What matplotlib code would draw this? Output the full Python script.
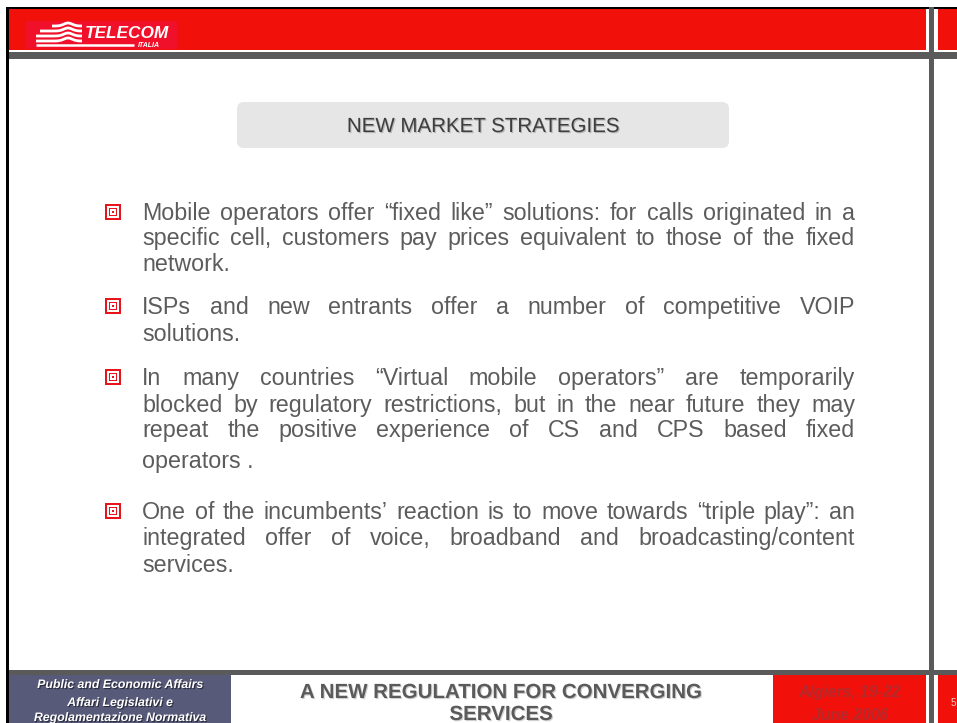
import matplotlib
matplotlib.use("Agg")
import matplotlib.pyplot as plt
import matplotlib.patheffects as pe
from matplotlib import font_manager
from matplotlib.patches import Rectangle, FancyBboxPatch
import numpy as np

W, H = 957, 723
PT = 0.72  # points per pixel at dpi 100

SLIDE_TITLE = "NEW MARKET STRATEGIES"
BULLETS = [
    ["Mobile operators offer \u201cfixed like\u201d solutions: for calls originated in a",
     "specific cell, customers pay prices equivalent to those of the fixed",
     "network."],
    ["ISPs and new entrants offer a number of competitive VOIP",
     "solutions."],
    ["In many countries \u201cVirtual mobile operators\u201d are temporarily",
     "blocked by regulatory restrictions, but in the near future they may",
     "repeat the positive experience of CS and CPS based fixed",
     "operators ."],
    ["One of the incumbents\u2019 reaction is to move towards \u201ctriple play\u201d: an",
     "integrated offer of voice, broadband and broadcasting/content",
     "services."],
]
FOOTER_LEFT = ["Public and Economic Affairs", "Affari Legislativi e", "Regolamentazione Normativa"]
FOOTER_TITLE = ["A NEW REGULATION FOR CONVERGING", "SERVICES"]
FOOTER_DATE = ["Algiers, 19-22", "June 2006"]
PAGE_NUMBER = "5"
LOGO_TEXT = "TELECOM"
LOGO_SUB = "ITALIA"

# layout (pixels from the top)
LINE_BASELINES = [[220, 245, 271], [314, 341], [385, 412, 437, 468], [519, 545, 572]]
TEXT_LEFT, TEXT_RIGHT = 142, 855

RED = "#f2110a"
GREY = "#5a5a5a"
TEXT_COLOR = "#5c5c5c"
FONT = "Liberation Sans"

installed = {f.name for f in font_manager.fontManager.ttflist}
NARROW = "Liberation Sans Narrow" if "Liberation Sans Narrow" in installed else None


def rect(ax, x0, y0, x1, y1, color, z=1):
    ax.add_patch(Rectangle((x0, y0), x1 - x0, y1 - y0, facecolor=color,
                           edgecolor="none", zorder=z))


def draw_frame(ax):
    rect(ax, 6, 7, W, 9, "black")
    rect(ax, 6, 7, 9, H, "black")
    rect(ax, 9, 9, 926, 50, RED)
    rect(ax, 938, 9, W, 50, RED)
    rect(ax, 9, 52, W, 59, GREY)
    rect(ax, 929, 7, 934, H, GREY, z=2)
    rect(ax, 9, 670, W, 675, GREY)
    rect(ax, 9, 675, 231, H, "#575a78")
    rect(ax, 773, 675, 926, H, RED)
    rect(ax, 938, 675, W, H, RED)


def draw_logo(ax):
    rect(ax, 26, 21, 177, 49, "#f0102a", z=2)
    xs = np.linspace(0, 1, 60)
    for y0, xa in [(26, 52), (31, 40), (36, 36), (41, 36)]:
        x = xa + (82 - xa) * xs
        bump = 3.0 * np.exp(-((x - 68) / 6.0) ** 2)
        ax.plot(x, y0 - bump, color="white", lw=2.0, solid_capstyle="butt", zorder=3)
    ax.plot([36, 134], [44.5, 44.5], color="white", lw=1.8, solid_capstyle="butt", zorder=3)
    ax.text(85, 37.5, LOGO_TEXT, color="white", fontsize=17.2 * PT, fontweight="bold",
            fontstyle="italic", family=FONT, va="baseline", ha="left", zorder=3)
    ax.text(138, 47, LOGO_SUB, color="white", fontsize=7 * PT, fontweight="bold",
            fontstyle="italic", family=FONT, va="baseline", ha="left", zorder=3)


def draw_bullet_icon(ax, x, base):
    top = base - 16
    for inset, col in [(0, "#e8141a"), (2, "white"), (3.6, "#e8141a"),
                       (5.2, "white"), (6.6, "#e8141a")]:
        s = 16 - 2 * inset
        ax.add_patch(Rectangle((x + inset, top + inset), s, s, facecolor=col,
                               edgecolor="none", zorder=3))


def draw_justified(ax, renderer, line, base, justify):
    size = 23.3 * PT
    if not justify:
        ax.text(TEXT_LEFT, base, line, fontsize=size, color=TEXT_COLOR, family=FONT,
                va="baseline", ha="left", zorder=3)
        return
    words = line.split(" ")
    widths = []
    for w in words:
        t = ax.text(0, 0, w, fontsize=size, family=FONT)
        widths.append(t.get_window_extent(renderer).width)
        t.remove()
    gap = (TEXT_RIGHT - TEXT_LEFT - sum(widths)) / (len(words) - 1)
    x = TEXT_LEFT
    for w, wd in zip(words, widths):
        ax.text(x, base, w, fontsize=size, color=TEXT_COLOR, family=FONT,
                va="baseline", ha="left", zorder=3)
        x += wd + gap


def main():
    fig = plt.figure(figsize=(W / 100, H / 100), dpi=100)
    ax = fig.add_axes([0, 0, 1, 1])
    ax.set_xlim(0, W)
    ax.set_ylim(H, 0)
    ax.axis("off")
    renderer = fig.canvas.get_renderer()

    draw_frame(ax)
    draw_logo(ax)

    # slide title box
    ax.add_patch(FancyBboxPatch((242, 107), 482, 36, boxstyle="round,pad=5,rounding_size=7",
                                facecolor="#e6e6e6", edgecolor="none", zorder=2))
    ax.text(483, 132, SLIDE_TITLE, fontsize=20.5 * PT, color="#3e3e3e", family=FONT,
            ha="center", va="baseline", zorder=3,
            path_effects=[pe.withSimplePatchShadow(offset=(0.8, -0.8),
                                                   shadow_rgbFace="#a0a0a0", alpha=0.7)])

    for para, bases in zip(BULLETS, LINE_BASELINES):
        draw_bullet_icon(ax, 105, bases[0])
        for k, (line, base) in enumerate(zip(para, bases)):
            draw_justified(ax, renderer, line, base, k < len(para) - 1)

    # footer
    if NARROW:
        left_kw = dict(family=[NARROW, FONT], fontsize=14.5 * PT)
    else:
        left_kw = dict(family=FONT, fontsize=12.3 * PT)
    for line, base in zip(FOOTER_LEFT, [688, 706, 721]):
        ax.text(120, base, line, color="white", fontweight="bold", fontstyle="italic",
                ha="center", va="baseline", zorder=3,
                path_effects=[pe.withSimplePatchShadow(offset=(0.8, -0.8),
                                                       shadow_rgbFace="#202030", alpha=0.8)],
                **left_kw)
    for line, base in zip(FOOTER_TITLE, [698, 720]):
        ax.text(501, base, line, color="#5a5a5a", fontweight="bold", family=FONT,
                fontsize=20.5 * PT, ha="center", va="baseline", zorder=3,
                path_effects=[pe.withSimplePatchShadow(offset=(0.8, -0.8),
                                                       shadow_rgbFace="#b0b0b0", alpha=0.6)])
    for line, base in zip(FOOTER_DATE, [697, 720]):
        ax.text(850, base, line, color="#b52a2c", fontweight="bold", fontstyle="italic",
                family=FONT, fontsize=15.7 * PT, ha="center", va="baseline", zorder=3)
    ax.text(951, 706, PAGE_NUMBER, color="#e8c8c8", family=FONT, fontsize=10 * PT,
            ha="left", va="baseline", zorder=3)

    fig.savefig("out.png", dpi=100)


if __name__ == "__main__":
    main()
